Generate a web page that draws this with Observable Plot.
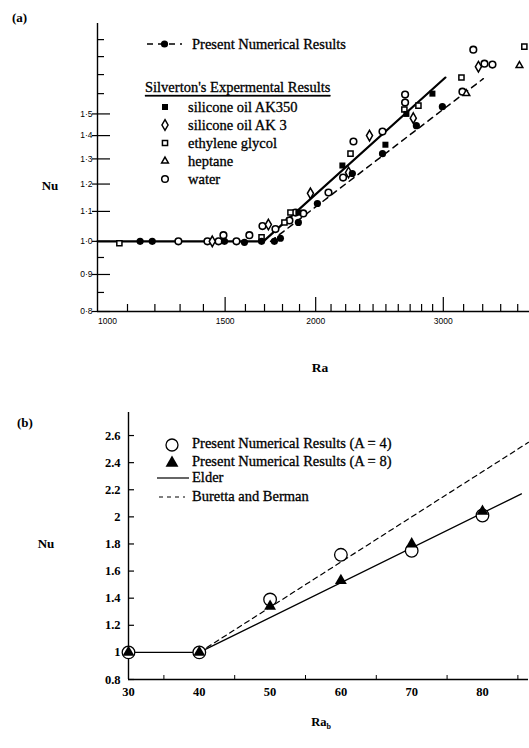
<!DOCTYPE html>
<html><head><meta charset="utf-8">
<script src="https://cdn.jsdelivr.net/npm/d3@7"></script>
<script src="https://cdn.jsdelivr.net/npm/@observablehq/plot@0.6"></script>
<style>
body{margin:0;background:#fff;}
#wrap{position:relative;width:529px;height:748px;background:#fff;}
#wrap svg{display:block;}
</style></head><body><div id="wrap"></div><script>
// ---------- Panel (a) data (log-log) ----------
const numRa = [1145, 1190, 1497, 1595, 1684, 1754, 1788, 1893, 2011, 2247, 2473, 2754, 2991];
const numNu = [1.0, 1.0, 1.0, 0.997, 1.0, 1.0, 1.01, 1.062, 1.128, 1.241, 1.322, 1.445, 1.535];
const ak350Ra = [1893, 2177, 2496, 2668, 2898];
const ak350Nu = [1.096, 1.273, 1.36, 1.50, 1.60];
const ak3Ra = [1440, 1721, 1967, 2220, 2373, 2727, 3354];
const ak3Nu = [1.0, 1.055, 1.165, 1.245, 1.40, 1.48, 1.743];
const glycolRa = [1072, 1684, 1811, 1846, 2234, 2651, 2772, 3178, 3881];
const glycolNu = [0.994, 1.013, 1.062, 1.096, 1.322, 1.521, 1.54, 1.684, 1.858];
const heptaneRa = [3228, 3821];
const heptaneNu = [1.60, 1.75];
const waterRa = [1293, 1418, 1469, 1492, 1555, 1620, 1689, 1760, 1840, 1876, 1923, 2083, 2182, 2255, 2473, 2657, 2657, 3188, 3300, 3419, 3507];
const waterNu = [1.0, 1.0, 1.0, 1.02, 1.0, 1.02, 1.05, 1.04, 1.069, 1.096, 1.093, 1.168, 1.225, 1.374, 1.418, 1.595, 1.555, 1.61, 1.84, 1.76, 1.755];
const solidRa = [1000, 1694, 3020];
const solidNu = [1.0, 1.0, 1.684];
const dashRa = [1733, 3407];
const dashNu = [1.0, 1.678];
const aXMajor = [1500, 2000, 3000];
const aXMinor = [1100,1200,1300,1400,1600,1700,1800,1900,2100,2200,2300,2400,2500,2600,2700,2800,2900,3200,3400,3600,3800];
const aYMajor = [0.8, 0.9, 1.0, 1.1, 1.2, 1.3, 1.4, 1.5];
const aYMinor = [0.85, 0.95, 1.6, 1.7, 1.8, 1.9];

// ---------- Panel (b) data (linear) ----------
const raB = [30, 40, 50, 60, 70, 80];
const nuA4 = [1.0, 1.0, 1.39, 1.72, 1.75, 2.01];
const nuA8 = [1.0, 1.0, 1.34, 1.53, 1.80, 2.04];
const elderRa = [30, 40, 85.5];
const elderNu = [1.0, 1.0, 2.17];
const bbRa = [40, 86.5];
const bbNu = [1.0, 2.55];
const bXTicks = [30, 40, 50, 60, 70, 80];
const bXMinor = [35, 45, 55, 65, 75, 85];
const bYTicks = [0.8, 1.0, 1.2, 1.4, 1.6, 1.8, 2.0, 2.2, 2.4, 2.6];

const zip = (xs, ys) => xs.map((x, i) => ({x, y: ys[i]}));
const serif = "'Liberation Serif', 'Times New Roman', serif";
const fmtA = d => d.toFixed(1).replace(".", "·");

const plotA = Plot.plot({
  width: 529, height: 380,
  marginLeft: 97, marginRight: 0, marginTop: 23, marginBottom: 69,
  x: {type: "log", domain: [1000, 3945], axis: null},
  y: {type: "log", domain: [0.8, 2.0], axis: null},
  style: {background: "white", overflow: "visible", fontFamily: serif},
  marks: [
    Plot.ruleY([0.8], {stroke: "black", strokeWidth: 1.4}),
    Plot.ruleX([1000], {stroke: "black", strokeWidth: 1.4}),
    Plot.axisX(aXMajor, {anchor: "bottom", tickSize: -14, tickFormat: () => "", label: null, strokeWidth: 1.2}),
    Plot.axisX(aXMinor, {anchor: "bottom", tickSize: -7, tickFormat: () => "", label: null, strokeWidth: 1.2}),
    Plot.axisY(aYMajor, {anchor: "left", tickSize: -13, tickFormat: () => "", label: null, strokeWidth: 1.2}),
    Plot.axisY(aYMajor, {anchor: "left", tickSize: 5, tickFormat: () => "", label: null, strokeWidth: 1.2}),
    Plot.axisY(aYMinor, {anchor: "left", tickSize: -7, tickFormat: () => "", label: null, strokeWidth: 1.2}),
    Plot.text(aXMajor, {x: d => d, frameAnchor: "bottom", dy: 6, lineAnchor: "top", text: d => String(d), fontSize: 8.5, fontFamily: "'Liberation Sans', sans-serif"}),
    Plot.text([1000], {x: d => d, frameAnchor: "bottom", dy: 6, dx: 10, lineAnchor: "top", text: d => String(d), fontSize: 8.5, fontFamily: "'Liberation Sans', sans-serif"}),
    Plot.text(aYMajor, {y: d => d, frameAnchor: "left", dx: -5, textAnchor: "end", text: fmtA, fontSize: 8.5, fontFamily: "'Liberation Sans', sans-serif"}),
    Plot.line(zip(solidRa, solidNu), {x: "x", y: "y", stroke: "black", strokeWidth: 2.2}),
    Plot.line(zip(dashRa, dashNu), {x: "x", y: "y", stroke: "black", strokeWidth: 1.5, strokeDasharray: "6,5"}),
    Plot.dot(zip(waterRa, waterNu), {x: "x", y: "y", symbol: "circle", r: 3.3, stroke: "black", strokeWidth: 1.6, fill: "white"}),
    Plot.dot(zip(glycolRa, glycolNu), {x: "x", y: "y", symbol: "square", r: 2.9, stroke: "black", strokeWidth: 1.5, fill: "white"}),
    Plot.dot(zip(ak3Ra, ak3Nu), {x: "x", y: "y", symbol: "diamond", r: 3.2, stroke: "black", strokeWidth: 1.5, fill: "white"}),
    Plot.dot(zip(heptaneRa, heptaneNu), {x: "x", y: "y", symbol: "triangle", r: 2.5, stroke: "black", strokeWidth: 1.5, fill: "white"}),
    Plot.dot(zip(ak350Ra, ak350Nu), {x: "x", y: "y", symbol: "square", r: 3.4, fill: "black"}),
    Plot.dot(zip(numRa, numNu), {x: "x", y: "y", symbol: "circle", r: 3.6, fill: "black"})
  ]
});

const plotB = Plot.plot({
  width: 529, height: 368,
  marginLeft: 128, marginRight: 1, marginTop: 32, marginBottom: 69,
  x: {domain: [30, 86.5], axis: null},
  y: {domain: [0.8, 2.77], axis: null},
  style: {background: "white", overflow: "visible", fontFamily: serif},
  marks: [
    Plot.ruleY([0.8], {stroke: "black", strokeWidth: 1.6}),
    Plot.ruleX([30], {stroke: "black", strokeWidth: 1.4}),
    Plot.axisY(bYTicks, {anchor: "left", tickSize: -6, tickFormat: () => "", label: null, strokeWidth: 1.2}),
    Plot.axisX(bXMinor, {anchor: "bottom", tickSize: -4, tickFormat: () => "", label: null, strokeWidth: 1}),
    Plot.text(bYTicks, {y: d => d, frameAnchor: "left", dx: -8, textAnchor: "end", text: d => String(+d.toFixed(1)), fontSize: 12.5, fontWeight: "bold", fontFamily: serif}),
    Plot.text(bXTicks, {x: d => d, frameAnchor: "bottom", dy: 8, lineAnchor: "top", text: d => String(d), fontSize: 12.5, fontWeight: "bold", fontFamily: serif}),
    Plot.line(zip(bbRa, bbNu), {x: "x", y: "y", stroke: "black", strokeWidth: 1.2, strokeDasharray: "5,4"}),
    Plot.line(zip(elderRa, elderNu), {x: "x", y: "y", stroke: "black", strokeWidth: 1.3}),
    Plot.dot(zip(raB, nuA4), {x: "x", y: "y", symbol: "circle", r: 6.3, stroke: "black", strokeWidth: 1.3, fill: "white"}),
    Plot.dot(zip(raB, nuA8), {x: "x", y: "y", symbol: "triangle", r: 4.4, fill: "black"})
  ]
});

const wrap = document.getElementById("wrap");
wrap.appendChild(plotA);
wrap.appendChild(plotB);

function addText(svg, x, y, str, opts = {}) {
  const t = svg.append("text").attr("x", x).attr("y", y)
    .attr("font-family", serif).attr("font-size", opts.size || 14.5)
    .attr("font-weight", opts.weight || "normal")
    .attr("text-anchor", opts.anchor || "start")
    .attr("dominant-baseline", "central").attr("fill", "black")
    .attr("stroke", "black").attr("stroke-width", opts.heavy === false ? 0 : 0.3)
    .text(str);
  if (opts.underline) t.attr("text-decoration", "underline");
  return t;
}
function addSym(svg, type, r, x, y, filled, sw) {
  svg.append("path").attr("d", d3.symbol(type, Math.PI * r * r)())
    .attr("transform", `translate(${x},${y})`)
    .attr("fill", filled ? "black" : "white").attr("stroke", filled ? "none" : "black")
    .attr("stroke-width", sw || 1.5);
}

// ---- panel (a) annotations & legend ----
const sa = d3.select(plotA);
addText(sa, 12, 17, "(a)", {weight: "bold", size: 13, heavy: false});
addText(sa, 50, 185, "Nu", {weight: "bold", size: 13, anchor: "middle", heavy: false});
addText(sa, 320, 367, "Ra", {weight: "bold", size: 13.5, anchor: "middle", heavy: false});
sa.append("line").attr("x1", 147).attr("x2", 182).attr("y1", 44).attr("y2", 44)
  .attr("stroke", "black").attr("stroke-width", 1.5).attr("stroke-dasharray", "6,5");
addSym(sa, d3.symbolCircle, 3.6, 164.5, 44, true);
addText(sa, 192, 44, "Present Numerical Results");
addText(sa, 145, 87, "Silverton's Expermental Results", {underline: true});
const legA = [
  [d3.symbolSquare, 3.4, true, "silicone oil AK350"],
  [d3.symbolDiamond, 3.2, false, "silicone oil AK 3"],
  [d3.symbolSquare, 2.9, false, "ethylene glycol"],
  [d3.symbolTriangle, 2.5, false, "heptane"],
  [d3.symbolCircle, 3.3, false, "water"]
];
legA.forEach((d, i) => {
  const y = 107 + i * 18;
  addSym(sa, d[0], d[1], 165, y, d[2]);
  addText(sa, 188, y, d[3]);
});

// ---- panel (b) annotations & legend ----
const sb = d3.select(plotB);
addText(sb, 17, 42, "(b)", {weight: "bold", size: 13, heavy: false});
addText(sb, 46, 163, "Nu", {weight: "bold", size: 13, anchor: "middle", heavy: false});
const rab = sb.append("text").attr("x", 321).attr("y", 342).attr("text-anchor", "middle")
  .attr("dominant-baseline", "central").attr("font-family", serif).attr("font-size", 12.5).attr("font-weight", "bold");
rab.append("tspan").text("Ra");
rab.append("tspan").attr("font-size", 8).attr("dy", 4).text("b");
addSym(sb, d3.symbolCircle, 6, 172, 65, false, 1.3);
addText(sb, 192, 63, "Present Numerical Results (A = 4)");
addSym(sb, d3.symbolTriangle, 4.8, 172, 83, true);
addText(sb, 192, 81, "Present Numerical Results (A = 8)");
sb.append("line").attr("x1", 157).attr("x2", 189).attr("y1", 98).attr("y2", 98).attr("stroke", "black").attr("stroke-width", 1.2);
addText(sb, 192, 97, "Elder");
sb.append("line").attr("x1", 159).attr("x2", 185).attr("y1", 117).attr("y2", 117).attr("stroke", "black").attr("stroke-width", 1.2).attr("stroke-dasharray", "4,4");
addText(sb, 192, 116, "Buretta and Berman");
</script></body></html>
